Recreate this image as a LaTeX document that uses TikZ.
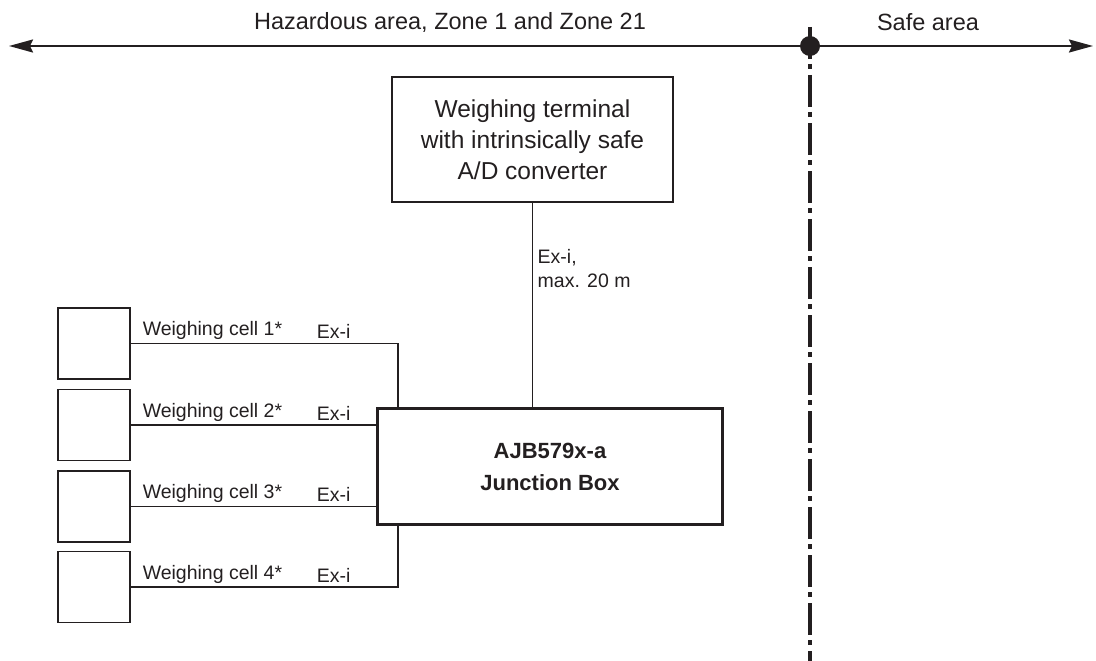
\documentclass[tikz,border=0pt]{standalone}
\usepackage{fontspec}
\setmainfont{Liberation Sans}
\usetikzlibrary{arrows.meta}
\definecolor{ink}{HTML}{231F20}
\begin{document}
\begin{tikzpicture}[x=1pt,y=-1pt,
  ink/.style={draw=ink, text=ink},
  boxthin/.style={draw=ink, line width=1.1pt, inner sep=0pt, text=ink},
  cellbox/.style={boxthin, minimum width=72pt, minimum height=71pt},
  termbox/.style={boxthin, minimum width=281pt, minimum height=125pt, align=center,
    font=\fontsize{24.5}{31}\selectfont},
  jbox/.style={draw=ink, line width=3pt, inner sep=0pt, minimum width=345pt, minimum height=116pt,
    align=center, text=ink, font=\bfseries\fontsize{22}{32}\selectfont},
  wire/.style={draw=ink, line width=1.1pt},
  lbl/.style={text=ink, inner sep=0pt, font=\fontsize{19.5}{24}\selectfont},
  hdr/.style={text=ink, inner sep=0pt, font=\fontsize{23.5}{28}\selectfont},
  border/.style={draw=ink, line width=4.5pt, dash pattern=on 32pt off 5pt on 5pt off 6pt}
]
\useasboundingbox (0,0) rectangle (1096,661);

% header
\coordinate (L) at (9,46);
\coordinate (R) at (1093,46);
\draw[draw=ink, line width=2pt, {Stealth[length=24pt,width=13pt,inset=3pt]}-{Stealth[length=24pt,width=13pt,inset=3pt]}] (L) -- (R);
\node[hdr] (haz) at (450,22) {Hazardous area, Zone 1 and Zone 21};
\node[hdr] (safe) at (928,22) {Safe area};

% border line
\coordinate (btop) at (810,27);
\coordinate (bbot) at (810,661);
\draw[border] (btop) -- (bbot);
\node[circle, fill=ink, minimum size=20pt, inner sep=0pt] (dot) at (810,46) {};

% terminal
\node[termbox] (term) at (532.5,139.5) {Weighing terminal\\with intrinsically safe\\A/D converter};

% junction box
\node[jbox] (jb) at (550,466.5) {AJB579x-a\\Junction Box};

\draw[wire] (term.south) -- (term.south |- jb.north);
\node[lbl, anchor=north west, align=left, font=\fontsize{19.5}{24}\selectfont] (exmax) at ([xshift=5pt,yshift=-47pt]term.south) {Ex-i,\\max. 20 m};

% cells
\node[cellbox] (c1) at (94,343.5) {};
\node[cellbox] (c2) at (94,425) {};
\node[cellbox] (c3) at (94,506.5) {};
\node[cellbox] (c4) at (94,587) {};

\draw[wire] (c1.east) -| ([xshift=22pt]jb.north west);
\draw[wire] (c2.east) -- (c2.east -| jb.west);
\draw[wire] (c3.east) -- (c3.east -| jb.west);
\draw[wire] (c4.east) -| ([xshift=22pt]jb.south west);

\foreach \i in {1,2,3,4}{
  \node[lbl, anchor=base west] (w\i) at ([xshift=12pt,yshift=8pt]c\i.east) {Weighing cell \i*};
  \node[lbl, anchor=base west] (e\i) at ([xshift=186pt,yshift=5pt]c\i.east) {Ex-i};
}
\end{tikzpicture}
\end{document}
